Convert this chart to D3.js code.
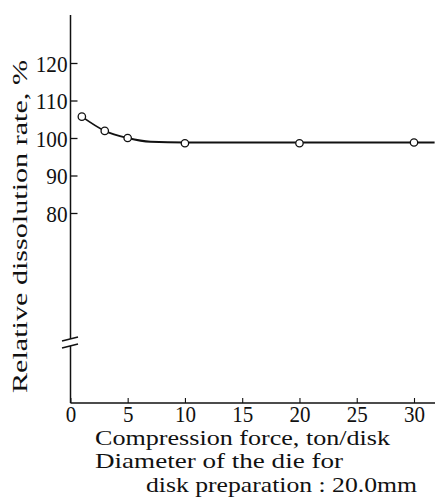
<!DOCTYPE html>
<html>
<head>
<meta charset="utf-8">
<script src="https://cdn.jsdelivr.net/npm/d3@7"></script>
<style>
  html, body { margin: 0; padding: 0; background: #fff; }
  svg { display: block; }
</style>
</head>
<body>
<svg id="chart" width="435" height="497"></svg>
<script>
// ---- data ----
const forceX = [1, 3, 5, 10, 20, 30];                   // compression force, ton/disk
const rateY  = [105.7, 101.9, 100.0, 98.6, 98.6, 98.8]; // relative dissolution rate, %
const curveX = [1, 3, 5, 7, 10, 20, 25, 30, 31.8];      // drawn smooth curve
const curveY = [105.7, 101.9, 100.0, 99.0, 98.8, 98.8, 98.8, 98.8, 98.8];
const xTicks = [0, 5, 10, 15, 20, 25, 30];
const yTicks = [80, 90, 100, 110, 120];
const yLabel = "Relative dissolution rate, %";
const xLabelLines = ["Compression force, ton/disk", "Diameter of the die for", "disk preparation : 20.0mm"];

const FONT = "'Liberation Serif', 'DejaVu Serif', 'Times New Roman', Times, serif";
const svg = d3.select("#chart");
const x = d3.scaleLinear().domain([0, 30]).range([70.4, 414]);
const y = d3.scaleLinear().domain([80, 120]).range([213, 63]);
const axisX = 70.5, axisTop = 15, axisBottom = 403, axisRight = 435;

// y axis line with break
const g = svg.append("g").attr("stroke", "#111").attr("stroke-width", 1.5).attr("fill", "none");
g.append("line").attr("x1", axisX).attr("x2", axisX).attr("y1", axisTop).attr("y2", 339);
g.append("line").attr("x1", axisX).attr("x2", axisX).attr("y1", 346).attr("y2", axisBottom);
g.append("line").attr("x1", 62).attr("x2", 78).attr("y1", 341).attr("y2", 337);
g.append("line").attr("x1", 62).attr("x2", 78).attr("y1", 348).attr("y2", 344);
// x axis line
g.append("line").attr("x1", axisX).attr("x2", axisRight).attr("y1", axisBottom).attr("y2", axisBottom);

// y axis ticks
const yAxis = svg.append("g").attr("transform", `translate(${axisX},0)`)
  .call(d3.axisLeft(y).tickValues(yTicks).tickSizeInner(-7).tickSizeOuter(0).tickPadding(3));
yAxis.attr("font-family", null).attr("font-size", null);
yAxis.select(".domain").remove();
yAxis.selectAll(".tick line").attr("stroke", "#111").attr("stroke-width", 1.3);
yAxis.selectAll(".tick text")
  .style("font-family", FONT).style("font-size", "24px").attr("fill", "#111")
  .attr("dy", "0.34em")
  .attr("textLength", d => String(d).length * 10.6).attr("lengthAdjust", "spacingAndGlyphs");

// x axis ticks
const xAxis = svg.append("g").attr("transform", `translate(0,${axisBottom})`)
  .call(d3.axisBottom(x).tickValues(xTicks).tickSizeInner(-5).tickSizeOuter(0).tickPadding(3));
xAxis.attr("font-family", null).attr("font-size", null);
xAxis.select(".domain").remove();
xAxis.selectAll(".tick line").attr("stroke", "#111").attr("stroke-width", 1.1);
xAxis.selectAll(".tick text")
  .style("font-family", FONT).style("font-size", "23px").attr("fill", "#111")
  .attr("y", 19).attr("dy", 0)
  .attr("textLength", d => String(d).length * 10.5).attr("lengthAdjust", "spacingAndGlyphs");

// curve
const line = d3.line().x(d => x(d[0])).y(d => y(d[1])).curve(d3.curveMonotoneX);
svg.append("path").datum(curveX.map((v, i) => [v, curveY[i]]))
  .attr("d", line).attr("fill", "none").attr("stroke", "#111").attr("stroke-width", 1.8);

// markers
svg.selectAll("circle.pt").data(forceX.map((v, i) => [v, rateY[i]])).join("circle")
  .attr("class", "pt").attr("cx", d => x(d[0])).attr("cy", d => y(d[1])).attr("r", 3.7)
  .attr("fill", "#fff").attr("stroke", "#111").attr("stroke-width", 1.3);

// y label
svg.append("text").attr("transform", "translate(27,226.5) rotate(-90)")
  .attr("text-anchor", "middle").style("font-family", FONT).style("font-size", "21px").attr("fill", "#111")
  .attr("textLength", 333).attr("lengthAdjust", "spacingAndGlyphs")
  .text(yLabel);

// x label lines
const xl = [
  {t: xLabelLines[0], x: 95, y: 445, w: 295},
  {t: xLabelLines[1], x: 95, y: 468, w: 248},
  {t: xLabelLines[2], x: 146, y: 492, w: 271}
];
svg.selectAll("text.xl").data(xl).join("text").attr("class", "xl")
  .attr("x", d => d.x).attr("y", d => d.y)
  .style("font-family", FONT).style("font-size", "21px").attr("fill", "#111")
  .attr("textLength", d => d.w).attr("lengthAdjust", "spacingAndGlyphs")
  .text(d => d.t);
</script>
</body>
</html>
